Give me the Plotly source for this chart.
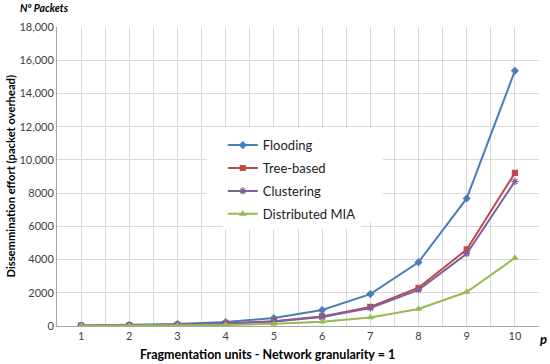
import plotly.graph_objects as go

p_units = [1, 2, 3, 4, 5, 6, 7, 8, 9, 10]
flooding = [30, 60, 120, 240, 480, 960, 1920, 3840, 7680, 15360]
tree_based = [18, 36, 72, 144, 288, 576, 1152, 2304, 4608, 9216]
clustering = [17, 34, 68, 136, 272, 544, 1088, 2176, 4352, 8704]
distributed_mia = [8, 16, 32, 64, 128, 256, 512, 1024, 2048, 4096]

y_tickvals = [0, 2000, 4000, 6000, 8000, 10000, 12000, 14000, 16000, 18000]
y_ticktext = ["0", "2000", "4000", "6000", "8000", "10,000", "12,000", "14,000", "16,000", "18,000"]

FONT = "Lato"

series = [
    ("Flooding", flooding, "#4A7EBB", "diamond", 5),
    ("Tree-based", tree_based, "#BE4B48", "square", 5),
    ("Clustering", clustering, "#7D60A0", "asterisk-open", 6),
    ("Distributed MIA", distributed_mia, "#98B954", "triangle-up", 5),
]

fig = go.Figure()
for name, vals, color, sym, sz in series:
    fig.add_trace(go.Scatter(
        x=p_units, y=vals, name=name, mode="lines+markers",
        legendgroup=name,
        line=dict(color=color, width=2),
        marker=dict(symbol=sym, size=sz, color=color,
                    line=dict(color=color, width=1.2)),
    ))

grid = "#D9D9D9"
fig.update_layout(
    width=550, height=364,
    margin=dict(l=57, r=11, t=27, b=38),
    paper_bgcolor="white", plot_bgcolor="white",
    font=dict(family=FONT, size=11, color="#404040"),
    showlegend=True,
    legend=dict(
        x=0.344, y=0.655, xanchor="left", yanchor="top",
        bgcolor="white", font=dict(family=FONT, size=13, color="#222222"),
        tracegroupgap=3, itemwidth=30,
    ),
    shapes=[
        dict(type="rect", xref="paper", yref="paper",
             x0=0.311, x1=0.676, y0=0.348, y1=0.662,
             fillcolor="white", line=dict(width=0), layer="above"),
    ],
    xaxis=dict(
        range=[0.5, 10.5], tickvals=p_units, ticktext=[str(v) for v in p_units],
        showgrid=True, gridcolor=grid, gridwidth=1,
        minor=dict(tickvals=[i + 0.5 for i in range(0, 11)], showgrid=True,
                   gridcolor=grid, gridwidth=1),
        showline=True, linecolor="#A6A6A6", linewidth=1,
        ticks="", zeroline=False, automargin=False,
        tickfont=dict(family=FONT, size=11, color="#404040"),
    ),
    yaxis=dict(
        range=[0, 18000], tickvals=y_tickvals, ticktext=y_ticktext,
        showgrid=True, gridcolor=grid, gridwidth=1,
        showline=True, linecolor="#A6A6A6", linewidth=1,
        ticks="", zeroline=False, automargin=False,
        tickfont=dict(family=FONT, size=11, color="#404040"),
    ),
    annotations=[
        dict(text="<b>Dissemmination effort (packet overhead)</b>",
             xref="paper", yref="paper", x=0, xshift=-47, y=0.5,
             xanchor="center", yanchor="middle", textangle=-90, showarrow=False,
             font=dict(family=FONT, size=11.2, color="#000000")),
        dict(text="<b><i>Nº Packets</i></b>", xref="paper", yref="paper",
             x=-0.081, y=1.0, yshift=19, xanchor="left", yanchor="middle",
             showarrow=False, font=dict(family=FONT, size=10.5, color="#000000")),
        dict(text="<b><i>p</i></b>", xref="paper", yref="paper",
             x=1.0, y=0, xshift=4, yshift=-13, xanchor="center", yanchor="middle",
             showarrow=False, font=dict(family=FONT, size=13, color="#000000")),
        dict(text="<b>Fragmentation units - Network granularity = 1</b>",
             xref="paper", yref="paper", x=0.436, y=0, yshift=-28,
             xanchor="center", yanchor="middle", showarrow=False,
             font=dict(family=FONT, size=12.5, color="#000000")),
    ],
)

fig.write_html("out.html", config={"displayModeBar": False},
               post_script="document.body.style.margin='0';")
